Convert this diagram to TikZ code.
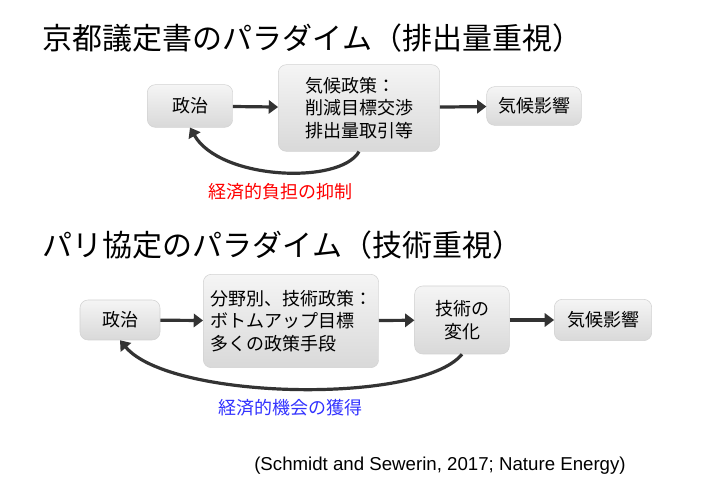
\documentclass[tikz,border=0pt]{standalone}
\usepackage{fontspec}
\setmainfont{Noto Sans CJK JP}
\newfontfamily\latinfont{Liberation Sans}
\usetikzlibrary{arrows.meta}
\tikzset{
  box/.style   = {shape=rectangle, rounded corners=6pt, draw=gray!35,
                  top color=gray!8, bottom color=gray!30, align=left,
                  font=\fontsize{13.5}{17}\selectfont, inner sep=5pt},
  flow/.style  = {draw=black!80, line width=2.4pt, -{Triangle[length=7pt,width=10pt]}},
  back/.style  = {draw=black!80, line width=2.4pt, -{Triangle[length=7pt,width=10pt]}},
  heading/.style = {anchor=west, font=\fontsize{22.5}{26}\selectfont}
}
\begin{document}
\begin{tikzpicture}[x=0.75pt, y=-0.75pt]
    \useasboundingbox (0,0) rectangle (703,484);
    % Kyoto paradigm
    \node [heading] (t1) at (38,38) {京都議定書のパラダイム（排出量重視）};
    \node [box, minimum width=64pt, minimum height=32pt, align=center] (pol1) at (190,106) {政治};
    \node [box, minimum width=121pt, minimum height=65pt] (cp1) at (359,108) {気候政策：\\削減目標交渉\\排出量取引等};
    \node [box, minimum width=71pt, minimum height=29pt, align=center] (imp1) at (534,106) {気候影響};
    \draw [flow] (pol1) -- (cp1);
    \draw [flow] (cp1) -- (imp1);
    \draw [back] (cp1.south) .. controls (340,185) and (220,180) .. (pol1.south);
    \node [text=red, font=\fontsize{13.5}{16}\selectfont] (lab1) at (280,192) {経済的負担の抑制};
    % Paris paradigm
    \node [heading] (t2) at (38,245) {パリ協定のパラダイム（技術重視）};
    \node [box, minimum width=60pt, minimum height=30pt, align=center] (pol2) at (120,320) {政治};
    \node [box, minimum width=124pt, minimum height=70pt] (cp2) at (291,321) {分野別、技術政策：\\ボトムアップ目標\\多くの政策手段};
    \node [box, minimum width=71pt, minimum height=51pt, align=center] (tech) at (462,320) {技術の\\変化};
    \node [box, minimum width=73pt, minimum height=31pt, align=center] (imp2) at (603,320) {気候影響};
    \draw [flow] (pol2) -- (cp2);
    \draw [flow] (cp2) -- (tech);
    \draw [flow] (tech) -- (imp2);
    \draw [back] (tech.south) .. controls (420,405) and (170,400) .. (pol2.south);
    \node [text=blue!80, font=\fontsize{13.5}{16}\selectfont] (lab2) at (290,408) {経済的機会の獲得};
    \node [font=\latinfont\fontsize{14}{16}\selectfont] (ref) at (440,466) {(Schmidt and Sewerin, 2017; Nature Energy)};
\end{tikzpicture}
\end{document}
